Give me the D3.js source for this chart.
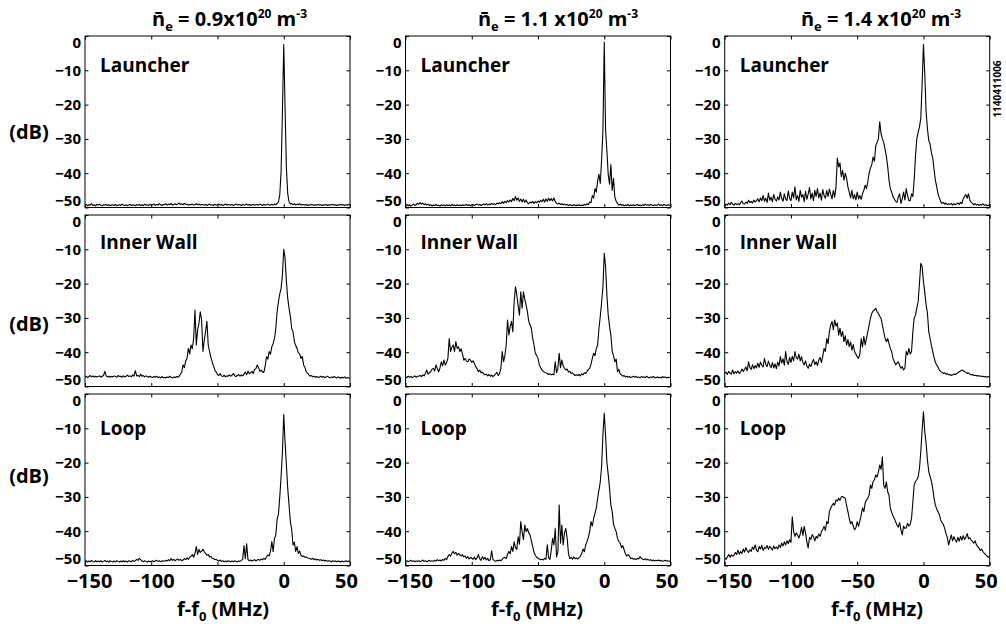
<!DOCTYPE html>
<html>
<head>
<meta charset="utf-8">
<script src="https://cdn.jsdelivr.net/npm/d3@7"></script>
<style>
  body { margin: 0; background: #fff; }
  svg text { font-family: "Open Sans", sans-serif; font-weight: 700; fill: #000; }
</style>
</head>
<body>
<svg id="chart" width="1006" height="628"></svg>
<script>
// frequency grid, 1 MHz steps from -150 to 50 (f - f0, MHz)
const FREQ = d3.range(-150, 51);

const X_TICKS = [-150, -100, -50, 0, 50];
const Y_TICKS = [0, -10, -20, -30, -40, -50];
const DENSITY = ["0.9x10", "1.1 x10", "1.4 x10"];
const PROBES = ["Launcher", "Inner Wall", "Loop"];
const SHOT = "1140411006";

// spectra in dB, one value per MHz
const L09 = [
  -49.4,-49.1,-49.5,-49.2,-49.3,-48.9,-49.4,-49.2,-49.5,-49.1,
  -49.3,-49.0,-49.4,-49.5,-49.2,-49.3,-49.1,-49.4,-49.2,-49.5,
  -49.3,-49.2,-49.4,-49.1,-49.5,-49.3,-49.2,-49.4,-49.0,-49.3,
  -49.4,-49.2,-49.5,-49.3,-49.1,-49.4,-49.2,-49.3,-49.5,-49.2,
  -49.3,-49.1,-49.4,-49.2,-49.5,-49.0,-49.3,-49.2,-49.4,-49.1,
  -49.3,-49.2,-49.0,-49.4,-49.1,-49.3,-48.9,-49.2,-49.4,-49.1,
  -49.2,-48.9,-49.3,-49.0,-49.2,-48.8,-49.3,-49.1,-48.9,-49.2,
  -49.0,-48.7,-49.1,-48.9,-49.2,-48.8,-49.1,-49.0,-49.3,-49.1,
  -49.2,-49.0,-49.3,-49.1,-48.9,-49.2,-49.0,-49.3,-49.1,-49.2,
  -49.3,-49.1,-49.4,-49.2,-49.0,-49.3,-49.2,-49.4,-49.1,-49.3,
  -49.2,-49.0,-49.3,-49.1,-49.4,-49.2,-49.0,-49.3,-49.1,-49.2,
  -49.3,-49.1,-49.4,-49.2,-49.0,-49.3,-49.1,-49.2,-49.4,-49.1,
  -49.3,-49.2,-49.0,-49.3,-49.1,-49.4,-49.2,-49.1,-49.3,-49.2,
  -49.1,-49.3,-49.0,-49.2,-49.4,-49.1,-49.3,-49.2,-49.0,-49.3,
  -49.2,-49.1,-49.3,-49.0,-49.2,-48.8,-48.4,-46.3,-39.5,-22.0,
  -2.5,-21.0,-38.5,-46.0,-48.3,-49.0,-48.8,-49.2,-48.9,-49.3,
  -49.0,-49.2,-48.9,-49.3,-49.1,-49.2,-49.3,-49.1,-49.4,-49.2,
  -49.3,-49.1,-49.2,-49.4,-49.2,-49.3,-49.1,-49.3,-49.2,-49.4,
  -49.2,-49.3,-49.1,-49.4,-49.2,-49.3,-49.2,-49.1,-49.3,-49.2,
  -49.4,-49.2,-49.3,-49.1,-49.3,-49.2,-49.4,-49.2,-49.3,-49.1,
  -49.3
];
const L11 = [
  -49.4,-49.1,-49.5,-49.2,-49.6,-49.3,-49.0,-49.4,-49.2,-48.8,
  -49.1,-48.6,-49.0,-48.7,-49.2,-48.9,-49.3,-49.0,-49.4,-49.2,
  -49.5,-49.3,-49.4,-49.1,-49.5,-49.3,-49.6,-49.2,-49.4,-49.3,
  -49.5,-49.2,-49.4,-49.3,-49.5,-49.1,-49.4,-49.3,-49.5,-49.2,
  -49.4,-49.3,-49.5,-49.2,-49.4,-49.3,-49.1,-49.4,-49.2,-49.5,
  -49.3,-49.1,-49.4,-49.2,-49.0,-49.3,-49.1,-49.4,-49.2,-49.0,
  -49.2,-48.9,-49.3,-49.0,-49.2,-48.8,-49.1,-48.9,-49.2,-48.7,
  -48.9,-48.6,-48.9,-48.3,-48.8,-48.2,-48.6,-48.0,-48.4,-47.8,
  -48.3,-47.4,-48.0,-46.8,-47.9,-47.2,-48.2,-47.5,-48.4,-47.6,
  -48.5,-47.8,-48.6,-48.9,-48.4,-48.7,-48.2,-48.8,-48.3,-48.6,
  -48.1,-48.5,-47.9,-48.3,-47.6,-48.4,-47.5,-48.2,-47.3,-48.0,
  -47.4,-48.1,-47.2,-48.3,-48.8,-49.0,-48.7,-49.1,-48.9,-49.2,
  -49.0,-49.3,-49.1,-49.4,-49.2,-49.3,-49.5,-49.2,-49.4,-49.3,
  -49.4,-49.2,-49.5,-49.3,-49.4,-49.1,-49.3,-48.9,-49.2,-48.4,
  -48.6,-46.5,-47.2,-44.5,-45.5,-42.2,-40.3,-43.0,-36.0,-27.5,
  -1.8,-27.5,-33.5,-40.5,-43.2,-37.5,-45.0,-41.5,-47.0,-48.2,
  -48.8,-49.3,-49.0,-49.4,-49.2,-49.5,-49.3,-49.4,-49.1,-49.5,
  -49.3,-49.4,-49.2,-49.5,-49.3,-49.1,-49.4,-49.3,-49.5,-49.2,
  -49.4,-49.0,-49.3,-49.2,-49.4,-49.1,-49.3,-49.5,-49.2,-49.4,
  -49.3,-49.0,-49.4,-49.2,-49.5,-49.1,-49.3,-49.4,-49.2,-49.3,
  -49.4
];
const L14 = [
  -49.4,-49.0,-49.3,-48.7,-49.2,-48.5,-49.0,-49.3,-48.8,-49.1,
  -48.9,-49.2,-48.6,-48.1,-48.9,-49.0,-48.4,-48.8,-47.9,-48.6,
  -48.2,-48.7,-47.8,-48.4,-48.0,-47.5,-48.3,-47.2,-48.0,-46.5,
  -48.2,-47.3,-48.5,-45.8,-47.9,-47.0,-48.3,-46.2,-47.6,-48.1,
  -46.9,-47.8,-45.5,-47.4,-48.2,-46.0,-47.5,-48.0,-45.2,-47.3,
  -48.0,-45.5,-47.2,-44.0,-47.8,-46.5,-48.2,-45.0,-47.0,-46.2,
  -48.3,-45.3,-47.6,-46.0,-44.2,-47.5,-45.8,-48.0,-45.0,-46.8,
  -44.5,-47.2,-45.8,-47.9,-44.8,-46.5,-47.3,-45.0,-46.8,-44.6,
  -46.2,-47.5,-45.0,-47.0,-44.0,-35.6,-38.2,-37.0,-41.0,-39.2,
  -42.0,-40.0,-41.5,-44.0,-45.5,-47.2,-45.0,-47.5,-46.2,-47.8,
  -45.5,-47.5,-46.5,-47.6,-46.0,-45.0,-43.5,-44.5,-42.5,-40.0,
  -38.5,-37.5,-35.3,-36.5,-32.0,-31.0,-30.0,-25.0,-28.5,-30.0,
  -31.0,-33.0,-35.0,-38.0,-42.0,-44.5,-45.5,-46.8,-47.5,-48.2,
  -48.5,-47.0,-46.0,-48.8,-47.5,-45.5,-47.8,-44.5,-46.5,-48.0,
  -48.0,-46.0,-46.8,-42.0,-35.0,-30.0,-28.0,-26.5,-24.0,-14.0,
  -2.5,-11.0,-22.0,-27.0,-30.5,-31.5,-34.0,-35.5,-39.0,-42.0,
  -44.0,-46.0,-47.2,-48.3,-48.8,-48.5,-49.0,-48.7,-49.2,-48.9,
  -49.1,-48.8,-49.3,-48.9,-49.2,-49.0,-48.7,-49.1,-48.5,-48.9,
  -47.5,-46.8,-46.2,-47.3,-46.0,-47.8,-48.5,-48.8,-49.2,-48.9,
  -49.3,-49.0,-49.4,-49.1,-49.3,-48.9,-49.4,-49.2,-49.5,-49.3,
  -49.4
];
const IW09 = [
  -47.3,-47.0,-47.4,-47.1,-46.8,-47.2,-46.9,-47.3,-47.0,-47.2,
  -47.1,-46.9,-47.3,-47.0,-46.8,-45.6,-46.9,-47.2,-47.0,-47.3,
  -47.0,-47.2,-46.9,-47.1,-47.3,-46.8,-47.1,-47.0,-47.3,-46.9,
  -47.2,-47.0,-46.7,-47.1,-46.9,-47.2,-46.6,-47.0,-45.4,-46.9,
  -46.8,-47.1,-46.4,-47.0,-46.8,-47.2,-46.9,-47.1,-47.3,-47.0,
  -47.2,-47.4,-47.1,-47.3,-47.0,-47.4,-47.2,-47.5,-47.1,-47.4,
  -47.3,-47.5,-47.2,-47.4,-47.0,-47.3,-47.5,-47.2,-47.4,-47.1,
  -47.3,-47.0,-46.5,-45.8,-43.7,-44.5,-42.5,-41.8,-38.9,-40.5,
  -37.9,-39.0,-36.0,-27.7,-37.9,-33.5,-31.6,-28.2,-30.6,-39.8,
  -36.5,-34.0,-31.0,-37.9,-39.8,-41.5,-42.8,-44.0,-45.2,-45.8,
  -46.5,-46.8,-46.2,-46.9,-47.1,-46.7,-47.2,-46.9,-47.0,-46.6,
  -47.0,-46.7,-46.2,-46.9,-47.1,-46.8,-46.5,-47.0,-46.6,-46.9,
  -46.4,-45.8,-46.6,-45.5,-46.3,-46.0,-45.6,-46.2,-45.0,-44.8,
  -43.7,-44.5,-45.6,-45.2,-45.8,-45.9,-44.0,-41.3,-42.0,-39.8,
  -40.6,-38.4,-37.5,-36.0,-33.1,-28.2,-25.3,-23.0,-21.4,-17.5,
  -10.0,-12.5,-19.4,-24.3,-27.2,-29.6,-33.1,-34.0,-36.9,-38.0,
  -38.9,-40.2,-40.5,-41.8,-41.2,-43.7,-44.5,-45.7,-46.2,-46.6,
  -47.0,-46.8,-47.2,-47.0,-47.3,-47.1,-47.4,-47.2,-47.0,-47.3,
  -47.1,-47.4,-47.2,-47.0,-47.3,-47.5,-47.2,-47.4,-47.1,-47.3,
  -47.5,-47.2,-47.4,-47.6,-47.3,-47.5,-47.2,-47.6,-47.4,-47.5,
  -47.6
];
const IW11 = [
  -47.2,-47.4,-47.0,-47.3,-47.1,-47.4,-47.2,-46.9,-47.3,-47.0,
  -47.0,-46.8,-47.1,-46.6,-46.9,-46.2,-45.2,-46.4,-46.0,-45.7,
  -45.0,-44.7,-45.5,-43.7,-44.8,-45.7,-44.6,-42.8,-44.0,-42.3,
  -43.7,-43.0,-41.8,-36.0,-39.8,-38.5,-37.9,-39.8,-36.9,-38.9,
  -38.4,-39.8,-39.0,-40.5,-42.3,-41.8,-42.6,-42.8,-42.0,-42.3,
  -43.0,-42.5,-43.3,-44.2,-44.8,-45.7,-45.2,-46.0,-45.8,-46.3,
  -46.6,-46.4,-46.9,-46.5,-47.0,-46.7,-47.1,-46.8,-46.3,-45.9,
  -46.8,-46.2,-44.7,-39.8,-42.8,-41.0,-37.9,-30.6,-35.0,-32.5,
  -31.0,-34.0,-25.3,-20.9,-23.3,-26.5,-29.2,-22.4,-27.2,-22.4,
  -24.5,-26.2,-28.2,-31.0,-32.0,-33.1,-36.0,-37.9,-40.3,-41.0,
  -41.8,-43.7,-44.5,-45.2,-45.6,-45.9,-46.0,-46.2,-46.5,-46.3,
  -46.6,-46.4,-46.6,-42.8,-46.0,-44.7,-40.3,-44.5,-42.3,-44.0,
  -44.7,-45.2,-44.9,-45.8,-45.6,-46.2,-46.0,-46.5,-46.8,-46.6,
  -46.8,-46.5,-46.9,-46.3,-46.6,-46.0,-46.2,-45.6,-45.0,-44.7,
  -43.5,-41.8,-40.3,-41.0,-38.9,-37.9,-33.1,-29.5,-25.5,-21.0,
  -11.2,-15.0,-23.3,-29.2,-32.5,-35.0,-39.8,-41.0,-42.8,-42.0,
  -45.7,-45.0,-46.3,-46.6,-47.0,-46.8,-47.2,-47.0,-47.3,-47.1,
  -47.4,-47.2,-47.0,-47.3,-47.1,-47.4,-47.2,-47.5,-47.1,-47.3,
  -47.2,-47.4,-47.0,-47.3,-47.5,-47.2,-47.4,-47.1,-47.3,-47.5,
  -47.2,-47.4,-47.3,-47.5,-47.1,-47.4,-47.2,-47.5,-47.3,-47.4,
  -47.3
];
const IW14 = [
  -46.2,-45.8,-46.5,-45.6,-46.0,-46.4,-45.2,-46.3,-45.7,-46.1,
  -45.5,-46.2,-45.8,-44.9,-45.6,-45.0,-44.3,-45.4,-42.8,-44.5,
  -45.0,-43.6,-44.8,-43.9,-44.6,-43.2,-44.4,-42.9,-43.8,-44.3,
  -41.8,-43.5,-44.2,-42.6,-43.7,-44.5,-43.0,-44.6,-43.4,-44.8,
  -42.9,-44.0,-41.3,-43.2,-41.9,-43.8,-39.8,-42.7,-43.6,-41.5,
  -43.0,-41.2,-42.5,-39.8,-41.6,-42.0,-40.6,-42.5,-41.3,-43.0,
  -43.7,-42.5,-44.0,-44.7,-43.5,-44.2,-43.0,-42.1,-43.6,-42.8,
  -43.9,-42.3,-41.5,-43.0,-41.2,-38.9,-39.8,-36.0,-37.5,-34.0,
  -32.1,-31.0,-33.5,-30.6,-32.4,-31.5,-35.0,-33.0,-35.4,-34.0,
  -36.9,-35.2,-37.9,-36.3,-38.4,-37.0,-39.4,-37.8,-39.8,-40.5,
  -41.3,-41.8,-40.5,-36.0,-38.5,-35.4,-37.9,-36.0,-34.0,-32.1,
  -30.1,-28.7,-28.0,-27.7,-27.2,-28.2,-28.7,-29.5,-30.1,-32.1,
  -34.0,-36.0,-36.9,-36.0,-37.5,-38.9,-39.8,-41.8,-42.8,-43.7,
  -43.2,-42.8,-43.8,-44.7,-44.2,-45.2,-44.6,-39.8,-40.8,-38.9,
  -40.5,-39.8,-34.0,-30.1,-29.2,-27.0,-25.3,-19.9,-14.1,-15.0,
  -19.5,-22.5,-26.2,-28.5,-34.0,-36.0,-38.0,-39.8,-41.5,-43.0,
  -43.7,-44.3,-45.2,-45.6,-45.9,-46.2,-46.0,-46.4,-46.3,-46.6,
  -46.5,-46.8,-46.6,-46.4,-46.5,-46.2,-46.0,-45.7,-45.5,-45.2,
  -45.4,-45.6,-45.9,-46.2,-46.0,-46.4,-46.6,-46.5,-46.8,-46.7,
  -46.9,-46.8,-47.0,-46.9,-47.1,-47.0,-47.2,-47.1,-47.3,-47.1,
  -47.2
];
const LP09 = [
  -48.9,-48.6,-49.0,-48.7,-48.9,-48.5,-48.8,-49.0,-48.6,-48.9,
  -48.7,-48.9,-48.6,-49.0,-48.8,-48.5,-48.9,-48.7,-49.0,-48.6,
  -48.8,-49.0,-48.7,-48.9,-48.6,-48.8,-49.0,-48.7,-48.9,-48.6,
  -48.9,-48.7,-49.0,-48.6,-48.8,-48.9,-48.5,-48.8,-48.6,-48.2,
  -48.5,-47.9,-48.3,-48.7,-48.9,-48.6,-48.8,-49.0,-48.7,-48.9,
  -48.8,-48.6,-48.9,-48.7,-48.5,-48.8,-48.6,-48.9,-48.7,-48.6,
  -48.8,-48.5,-48.7,-48.3,-48.6,-48.0,-48.5,-48.2,-48.6,-48.3,
  -48.1,-48.5,-48.2,-48.6,-48.4,-48.0,-48.3,-47.8,-48.2,-47.6,
  -47.3,-46.8,-47.6,-46.5,-44.5,-46.8,-45.3,-46.2,-45.8,-45.3,
  -46.0,-46.5,-47.0,-46.8,-47.5,-47.3,-47.9,-48.0,-48.3,-48.2,
  -48.5,-48.7,-48.4,-48.8,-48.6,-48.9,-48.7,-48.9,-48.6,-48.8,
  -48.9,-48.7,-48.9,-48.6,-48.8,-48.9,-48.7,-48.8,-48.5,-48.2,
  -44.2,-48.0,-43.7,-48.3,-48.6,-48.4,-48.7,-48.5,-48.3,-48.6,
  -48.4,-48.2,-48.5,-48.1,-48.3,-47.9,-48.2,-47.5,-46.9,-47.2,
  -45.9,-43.0,-46.0,-42.1,-41.1,-36.5,-35.0,-30.0,-24.0,-17.0,
  -6.0,-14.0,-20.7,-27.5,-32.4,-37.2,-39.5,-44.0,-43.2,-45.9,
  -44.5,-46.5,-45.8,-47.0,-47.4,-47.2,-47.6,-47.5,-47.8,-47.9,
  -48.0,-48.2,-47.9,-48.3,-48.1,-48.4,-48.2,-48.5,-48.3,-48.6,
  -48.4,-48.7,-48.5,-48.8,-48.6,-48.7,-48.9,-48.6,-48.8,-48.7,
  -48.9,-48.7,-48.8,-49.0,-48.7,-48.9,-48.8,-48.6,-48.9,-48.7,
  -48.8
];
const LP11 = [
  -48.8,-48.6,-48.9,-48.7,-48.5,-48.8,-48.6,-48.9,-48.7,-48.8,
  -48.6,-48.9,-48.7,-48.4,-48.8,-48.6,-48.9,-48.7,-48.5,-48.8,
  -48.6,-48.8,-48.5,-48.7,-48.3,-48.6,-48.4,-48.7,-48.2,-48.5,
  -47.9,-48.3,-47.4,-46.8,-47.3,-46.4,-45.9,-46.6,-46.2,-47.0,
  -46.5,-46.9,-47.3,-46.8,-47.5,-47.2,-47.9,-47.4,-48.1,-47.6,
  -47.9,-48.2,-47.5,-48.3,-47.8,-46.8,-48.0,-48.5,-47.4,-48.2,
  -47.6,-48.4,-47.9,-48.6,-48.3,-45.7,-48.2,-48.6,-48.8,-48.5,
  -48.7,-48.4,-48.6,-48.2,-47.8,-47.6,-48.0,-46.8,-45.9,-46.6,
  -44.5,-45.9,-43.1,-44.8,-45.3,-41.6,-43.8,-37.2,-40.1,-42.5,
  -38.2,-40.1,-39.2,-40.5,-41.1,-42.8,-44.5,-46.2,-47.0,-47.6,
  -47.9,-48.1,-48.3,-48.2,-48.4,-47.9,-48.2,-44.0,-47.8,-48.2,
  -45.5,-42.1,-44.0,-39.2,-47.5,-46.0,-32.4,-43.5,-38.2,-44.0,
  -40.5,-39.2,-42.1,-46.5,-48.0,-47.6,-48.2,-47.5,-48.0,-47.8,
  -48.1,-47.7,-47.3,-46.5,-45.2,-46.0,-44.0,-43.0,-41.8,-40.1,
  -37.2,-38.5,-36.3,-34.8,-33.3,-30.4,-28.0,-25.6,-21.2,-11.8,
  -5.6,-12.0,-20.0,-23.5,-27.5,-32.4,-34.3,-38.0,-39.2,-40.1,
  -42.1,-43.0,-43.5,-44.8,-44.2,-45.4,-46.6,-47.3,-46.8,-47.2,
  -48.0,-47.8,-48.2,-48.0,-48.3,-47.9,-48.1,-47.4,-47.9,-48.2,
  -48.3,-48.0,-48.4,-48.2,-48.5,-48.3,-48.6,-48.4,-48.7,-48.5,
  -48.6,-48.4,-48.7,-48.5,-48.8,-48.6,-48.5,-48.7,-48.6,-48.8,
  -48.7
];
const LP14 = [
  -47.8,-48.2,-47.5,-46.8,-47.6,-46.9,-47.3,-47.0,-46.2,-46.8,
  -45.5,-46.7,-45.9,-46.5,-45.2,-46.1,-44.8,-45.7,-46.2,-45.4,
  -45.9,-44.6,-45.3,-44.0,-45.5,-46.0,-44.5,-45.2,-44.1,-45.6,
  -44.8,-45.0,-44.2,-45.3,-44.4,-44.9,-45.5,-44.3,-45.1,-44.6,
  -45.2,-44.0,-44.7,-43.5,-44.3,-43.1,-44.0,-42.8,-43.6,-42.5,
  -43.3,-35.8,-40.1,-41.5,-40.5,-41.1,-42.0,-40.8,-38.9,-41.2,
  -38.6,-40.5,-43.1,-44.9,-41.8,-42.4,-41.0,-41.6,-42.8,-41.5,
  -42.0,-40.8,-41.5,-40.1,-39.5,-38.6,-39.8,-37.2,-37.8,-34.3,
  -33.3,-32.5,-31.9,-32.4,-30.9,-31.2,-30.4,-31.0,-30.0,-29.9,
  -30.2,-30.4,-32.5,-34.3,-36.3,-37.8,-37.2,-38.5,-39.6,-39.0,
  -37.2,-38.6,-37.0,-35.3,-33.2,-34.3,-31.8,-30.9,-30.5,-29.4,
  -26.5,-27.5,-25.5,-25.0,-23.6,-24.2,-22.8,-20.7,-22.0,-18.3,
  -26.5,-27.5,-25.6,-28.5,-29.5,-33.3,-34.5,-35.5,-36.3,-37.2,
  -38.2,-38.8,-37.5,-39.6,-41.1,-38.5,-39.2,-39.0,-37.7,-38.5,
  -38.0,-36.3,-31.4,-26.5,-25.5,-25.0,-24.1,-21.7,-16.8,-10.5,
  -5.2,-11.0,-14.4,-19.2,-22.6,-24.0,-25.5,-27.5,-30.4,-32.4,
  -33.5,-34.3,-35.2,-36.7,-37.5,-38.0,-39.2,-40.7,-41.8,-44.0,
  -42.5,-41.1,-42.8,-41.6,-42.5,-43.2,-41.8,-42.9,-41.5,-42.6,
  -41.3,-42.4,-41.8,-40.7,-42.2,-41.9,-42.6,-43.0,-43.5,-42.8,
  -44.0,-44.5,-45.0,-45.6,-45.2,-46.0,-46.5,-46.8,-47.3,-47.6,
  -47.1
];

const SPECTRA = [[L09, L11, L14], [IW09, IW11, IW14], [LP09, LP11, LP14]];

// layout
const COL_X = [85, 405.5, 724.7];
const ROW_Y = [36, 215, 394];
const PW = 265, PH = 171.5;
const TITLE_CX = [229.5, 558, 881];
const XLABEL_CX = [223, 537, 877];
const DB_CY = [131.7, 323.3, 475];
const PROBE_BASE = [35.5, 33.5, 41];
const TICK = 3.5;

const svg = d3.select("#chart");

// column titles: n̄e = ... x10^20 m^-3
DENSITY.forEach((d, c) => {
  const t = svg.append("text").attr("x", TITLE_CX[c]).attr("y", 26)
    .attr("text-anchor", "middle").style("font-size", "20px");
  t.append("tspan").text("n\u0304");
  t.append("tspan").attr("dy", 5).style("font-size", "13px").text("e");
  t.append("tspan").attr("dy", -5).text(" = " + d);
  t.append("tspan").attr("dy", -8).style("font-size", "12px").text("20");
  t.append("tspan").attr("dy", 8).text(" m");
  t.append("tspan").attr("dy", -8).style("font-size", "12px").text("-3");
});

SPECTRA.forEach((row, r) => {
  // (dB) label on the left of each row
  svg.append("text").attr("x", 29).attr("y", DB_CY[r])
    .attr("text-anchor", "middle").attr("dominant-baseline", "central")
    .style("font-size", "20px").text("(dB)");

  row.forEach((vals, c) => {
    const x0 = COL_X[c], y0 = ROW_Y[r];
    const x = d3.scaleLinear().domain([-150, 50]).range([x0, x0 + PW]);
    const y = d3.scaleLinear().domain([-50, 0]).range([y0 + PH, y0]);
    const g = svg.append("g");

    const clipId = `clip-${r}-${c}`;
    g.append("clipPath").attr("id", clipId).append("rect")
      .attr("x", x0).attr("y", y0).attr("width", PW).attr("height", PH);

    const line = d3.line().x((d, i) => x(FREQ[i])).y(d => y(d));
    g.append("path").datum(vals)
      .attr("clip-path", `url(#${clipId})`)
      .attr("fill", "none").attr("stroke", "#000").attr("stroke-width", 1.1)
      .attr("stroke-linejoin", "round")
      .attr("d", line);

    // inward ticks on all four sides; end labels nudged inward as in the figure
    const left = g.append("g").attr("transform", `translate(${x0},0)`)
      .call(d3.axisLeft(y).tickValues(Y_TICKS).tickSizeInner(-TICK).tickSizeOuter(0).tickPadding(4));
    left.selectAll("text").style("font-size", "15px")
      .attr("y", d => d === 0 ? 6.5 : d === -50 ? -6.5 : 0);
    g.append("g").attr("transform", `translate(${x0 + PW},0)`)
      .call(d3.axisRight(y).tickValues(Y_TICKS).tickSizeInner(-TICK).tickSizeOuter(0).tickFormat(""));
    g.append("g").attr("transform", `translate(0,${y0})`)
      .call(d3.axisTop(x).tickValues(X_TICKS).tickSizeInner(-TICK).tickSizeOuter(0).tickFormat(""));
    const bottom = g.append("g").attr("transform", `translate(0,${y0 + PH})`)
      .call(d3.axisBottom(x).tickValues(X_TICKS).tickSizeInner(-TICK).tickSizeOuter(0).tickPadding(8)
        .tickFormat(r === 2 ? d3.format("d") : ""));
    bottom.selectAll("text").style("font-size", "20px")
      .attr("x", d => d === -150 ? 4 : d === 50 ? -4 : 0);

    g.selectAll(".domain").remove();
    g.selectAll(".tick line").attr("stroke", "#000");
    g.selectAll(".tick text").attr("fill", "#000").style("font-family", "'Open Sans', sans-serif").style("font-weight", 700);

    g.append("rect").attr("x", x0).attr("y", y0).attr("width", PW).attr("height", PH)
      .attr("fill", "none").attr("stroke", "#000").attr("stroke-width", 1);

    g.append("text").attr("x", x0 + 15).attr("y", y0 + PROBE_BASE[r])
      .style("font-size", "19px").text(PROBES[r]);
  });
});

// x axis titles under the bottom row
XLABEL_CX.forEach(cx => {
  const t = svg.append("text").attr("x", cx).attr("y", 616)
    .attr("text-anchor", "middle").style("font-size", "20px");
  t.append("tspan").text("f-f");
  t.append("tspan").attr("dy", 5).style("font-size", "13px").text("0");
  t.append("tspan").attr("dy", -5).text(" (MHz)");
});

// shot number, rotated along the right edge
svg.append("text").attr("transform", "translate(997,89) rotate(-90)")
  .attr("text-anchor", "middle").attr("dominant-baseline", "central")
  .style("font-size", "10px").text(SHOT);
</script>
</body>
</html>
